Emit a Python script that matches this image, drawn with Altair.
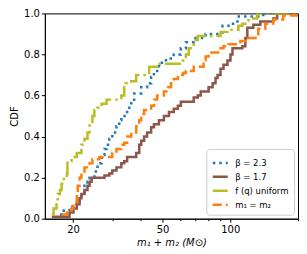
import altair as alt
import pandas as pd

series_names = ["β = 2.3", "β = 1.7", "f (q) uniform", "m₁ = m₂"]
series_colors = ["#1f77b4", "#8c564b", "#bcbd22", "#ff7f0e"]

b23_x = [17.5, 18.2, 19.3, 20.8, 21.4, 21.8, 22.5, 23.2, 23.7, 24.9, 25.7, 26.8, 27.6, 28.2, 29.0, 29.9, 31.2, 32.1, 32.8, 34.8,
         36.3, 37.4, 40.2, 42.7, 44.5, 45.8, 48.2, 51.8, 56.1, 60.3, 63.5, 68.8, 77.7, 92.4, 98.2, 107.6, 140.2, 200]
b23_y = [0.02, 0.04, 0.06, 0.08, 0.10, 0.12, 0.16, 0.18, 0.20, 0.23, 0.27, 0.31, 0.34, 0.36, 0.39, 0.42, 0.45, 0.48, 0.50, 0.54,
         0.57, 0.61, 0.64, 0.66, 0.69, 0.72, 0.76, 0.78, 0.80, 0.83, 0.86, 0.88, 0.90, 0.94, 0.95, 0.985, 1.0, 1.0]

b17_x = [16.1, 19.3, 20.1, 20.8, 21.4, 21.8, 22.5, 23.2, 23.7, 24.2, 27.6, 29.0, 29.9, 31.2, 32.8, 33.8, 34.8, 38.2, 39.4, 40.2,
         41.4, 42.7, 44.5, 45.8, 48.2, 50.7, 53.4, 56.1, 58.5, 60.3, 68.8, 71.7, 73.9, 80.1, 83.5, 86.0, 87.8, 90.5, 93.3, 97.2,
         100.2, 102.3, 113.2, 116.7, 119.1, 126.6, 136.0, 155.2, 161.6, 200]
b17_y = [0.01, 0.03, 0.05, 0.07, 0.10, 0.12, 0.14, 0.16, 0.18, 0.20, 0.21, 0.22, 0.235, 0.25, 0.27, 0.28, 0.30, 0.32, 0.36, 0.38,
         0.40, 0.42, 0.445, 0.46, 0.48, 0.50, 0.52, 0.535, 0.55, 0.57, 0.59, 0.60, 0.62, 0.64, 0.66, 0.685, 0.70, 0.73, 0.75, 0.77,
         0.80, 0.83, 0.84, 0.88, 0.93, 0.945, 0.96, 0.975, 1.0, 1.0]

fq_x = [16.1, 16.4, 16.9, 17.1, 17.5, 17.8, 18.2, 18.8, 18.9, 19.7, 20.8, 21.8, 22.5, 23.2, 23.7, 24.4, 24.9, 25.7, 26.8, 28.2,
        32.8, 33.8, 34.3, 36.3, 38.2, 43.6, 47.3, 61.6, 63.5, 65.4, 68.8, 71.7, 90.5, 97.2, 108.7, 113.2, 116.7, 120.4, 131.8, 200]
fq_y = [0.02, 0.05, 0.07, 0.12, 0.14, 0.17, 0.20, 0.22, 0.28, 0.30, 0.32, 0.36, 0.39, 0.42, 0.46, 0.50, 0.53, 0.54, 0.56, 0.58,
        0.60, 0.64, 0.66, 0.67, 0.70, 0.74, 0.755, 0.77, 0.80, 0.83, 0.87, 0.89, 0.91, 0.92, 0.94, 0.95, 0.965, 0.975, 1.0, 1.0]

eq_x = [17.8, 18.8, 19.7, 20.1, 20.8, 21.0, 21.4, 21.8, 22.5, 23.7, 24.4, 26.2, 29.9, 31.2, 32.8, 33.8, 34.8, 36.3, 38.2, 39.4,
        40.2, 41.4, 44.5, 45.8, 47.3, 50.7, 52.9, 54.5, 56.1, 58.5, 61.6, 63.5, 68.8, 76.1, 77.7, 80.1, 90.5, 93.3, 98.2, 110.9,
        120.4, 133.2, 143.1, 155.2, 171.7, 210]
eq_y = [0.02, 0.03, 0.05, 0.08, 0.13, 0.16, 0.20, 0.23, 0.25, 0.27, 0.29, 0.30, 0.32, 0.34, 0.36, 0.37, 0.40, 0.42, 0.45, 0.48,
        0.51, 0.53, 0.55, 0.58, 0.60, 0.62, 0.64, 0.66, 0.68, 0.70, 0.71, 0.72, 0.74, 0.77, 0.79, 0.81, 0.83, 0.84, 0.85, 0.865,
        0.88, 0.925, 0.95, 0.97, 0.99, 1.0]

x_ticks = [20, 30, 40, 50, 60, 70, 80, 90, 100, 200]
x_labels = [20, 50, 100]
y_ticks = [0.0, 0.2, 0.4, 0.6, 0.8, 1.0]

rows = []
for name, xs, ys in zip(series_names, [b23_x, b17_x, fq_x, eq_x], [b23_y, b17_y, fq_y, eq_y]):
    for i, (xv, yv) in enumerate(zip(xs, ys)):
        rows.append({"series": name, "mass": xv, "cdf": yv, "order": i})
df = pd.DataFrame(rows)

label_test = " || ".join(f"datum.value == {v}" for v in x_labels)

chart = alt.Chart(df).mark_line(interpolate="step-after", strokeWidth=2.5, clip=True, strokeCap="butt").encode(
    x=alt.X("mass:Q", scale=alt.Scale(type="log", domain=[15, 200], nice=False),
            axis=alt.Axis(values=x_ticks, title="m₁ + m₂ (M⊙)", titleFontStyle="italic",
                          labelExpr=f"({label_test}) ? datum.value : ''",
                          tickSize={"condition": {"test": label_test, "value": 3.5}, "value": 2},
                          labelPadding=2, titlePadding=3)),
    y=alt.Y("cdf:Q", scale=alt.Scale(domain=[0, 1], nice=False),
            axis=alt.Axis(values=y_ticks, format=".1f", title="CDF", tickSize=3.5, labelPadding=2, titlePadding=4)),
    color=alt.Color("series:N", scale=alt.Scale(domain=series_names, range=series_colors),
                    legend=alt.Legend(title=None, orient="bottom-right", offset=4)),
    strokeDash=alt.StrokeDash("series:N", scale=alt.Scale(domain=series_names,
                              range=[[2.5, 4], [1, 0], [16, 4, 2.5, 4], [9, 4]]),
                              legend=alt.Legend(title=None, orient="bottom-right", offset=4)),
    order="order:Q",
).properties(
    width=254, height=206,
    autosize=alt.AutoSizeParams(type="none"),
    padding={"left": 37, "top": 5, "right": 1, "bottom": 34},
).configure_view(
    stroke="black", strokeWidth=1
).configure_axis(
    grid=False, domainColor="black", tickColor="black", labelColor="black", titleColor="black",
    labelFont="DejaVu Sans", titleFont="DejaVu Sans", labelFontSize=10, titleFontSize=10,
    titleFontWeight="normal", domainWidth=1
).configure_legend(
    labelFont="DejaVu Sans", labelFontSize=8.5, symbolType="stroke", symbolSize=225,
    symbolStrokeWidth=2.5, strokeColor="#cccccc", fillColor="white", cornerRadius=3,
    padding=5, rowPadding=0, labelColor="black", labelOffset=6
)

chart.save("out.html", embed_options={"renderer": "svg", "actions": False})
